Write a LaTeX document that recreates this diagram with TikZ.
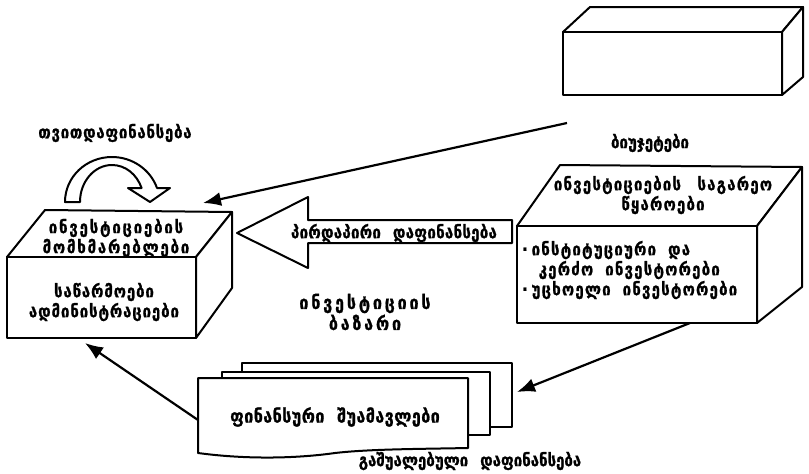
\documentclass[tikz,border=0pt]{standalone}
\usepackage{fontspec}
\usepackage{graphicx}
\newfontfamily\geo[Script=Georgian,FakeBold=1.2]{DejaVu Sans}
\usetikzlibrary{arrows.meta}
\newcommand\gp{\hspace{0.8em}}
\newcommand\tall[1]{\scalebox{1}[1.15]{#1}}
\tikzset{
  face/.style={draw, line width=2pt, line join=round, fill=white},
  lbl/.style={font=\geo\bfseries\fontsize{15}{20}\selectfont, align=center, inner sep=0pt},
  lsp/.style={lbl, font=\geo\bfseries\fontsize{15}{20}\selectfont\addfontfeature{LetterSpace=#1}},
  arr/.style={line width=2.2pt, -{Latex[length=18pt,width=14pt]}},
}
\begin{document}
\begin{tikzpicture}[x=1pt,y=-1pt]
\useasboundingbox (0,0) rectangle (809,474);

% ---------- budget box ----------
\draw[face] (563,32) -- (590,7) -- (803,7) -- (782,32) -- cycle;
\draw[face] (782,32) -- (803,7) -- (803,77) -- (782,95) -- cycle;
\draw[face] (563,32) rectangle (782,95);
\node[lbl] (budget) at (650,143) {\tall{ბიუჯეტები}};

% ---------- left box ----------
\draw[face] (7,257) -- (45,210) -- (232,212) -- (196,257) -- cycle;
\draw[face] (196,257) -- (232,212) -- (232,288) -- (196,338) -- cycle;
\draw[face] (7,257) rectangle (196,338);
\node[lsp=12] (users) at (116,238) {\tall{ინვესტიციების}\\\tall{მომხმარებლები}};
\node[lsp=6] (firms) at (104,302) {\tall{საწარმოები}\\\tall{ადმინისტრაციები}};

% ---------- self financing curved arrow ----------
\draw[face] (65,202) .. controls (65,177) and (86,157) .. (112,157)
  .. controls (132.4,157) and (150.4,169.6) .. (157,188)
  -- (170,188) -- (150,202) -- (128,188) -- (141.6,188)
  .. controls (136.7,174) and (125.1,165) .. (112,165)
  .. controls (94.3,165) and (80,181.6) .. (80,202) -- cycle;
\node[lsp=5] (self) at (115,133) {\tall{თვითდაფინანსება}};

% ---------- right box ----------
\draw[face] (517,226) -- (560,165) -- (802,167) -- (757,226) -- cycle;
\draw[face] (757,226) -- (802,167) -- (802,287) -- (757,323) -- cycle;
\draw[face] (517,226) rectangle (757,323);
\node[lsp=8] (sources) at (663,195) {\tall{ინვესტიციების\hspace{1.1em}საგარეო}\\\tall{წყაროები}};
\node[lsp=8, align=left, anchor=west] (investors) at (522,270)
  {\tall{·\hspace{0.25em}ინსტიტუციური\gp და}\\\tall{\hspace{1.1em}კერძო\gp ინვესტორები}\\\tall{·\hspace{0.25em}უცხოელი\gp ინვესტორები}};

% ---------- direct financing block arrow ----------
\draw[face] (237,233) -- (308,197) -- (308,220) -- (512,220) -- (512,243)
  -- (308,243) -- (308,268) -- cycle;
\node[lsp=2] (direct) at (394,233) {\tall{პირდაპირი\gp დაფინანსება}};

% ---------- market label ----------
\node[lbl, font=\geo\bfseries\fontsize{16}{21}\selectfont\addfontfeature{LetterSpace=18}] (market) at (365,312) {\tall{ინვესტიციის}\\\tall{ბაზარი}};

% ---------- financial intermediaries stack ----------
\draw[face] (242,363) rectangle (512,427);
\draw[face] (222,372) rectangle (490,435);
\draw[face] (198,378) -- (468,378) -- (468,448)
  .. controls (420,449) and (370,449) .. (335,453)
  .. controls (300,458) and (250,460) .. (198,453) -- cycle;
\node[lbl, font=\geo\bfseries\fontsize{16}{20}\selectfont\addfontfeature{LetterSpace=3}] (interm) at (335,417) {\tall{ფინანსური\gp შუამავლები}};
\node[lbl] (indirect) at (470,461) {\tall{გაშუალებული\gp დაფინანსება}};

% ---------- connectors ----------
\coordinate (bStart) at (567,123);
\coordinate (lTop) at (203,203);
\coordinate (rBot) at (690,323);
\coordinate (sRight) at (517,392);
\coordinate (sLeft) at (198,420);
\coordinate (lBot) at (85,343);
\draw[arr] (bStart) -- (lTop);
\draw[arr] (rBot) -- (sRight);
\draw[arr] (sLeft) -- (lBot);
\end{tikzpicture}
\end{document}
